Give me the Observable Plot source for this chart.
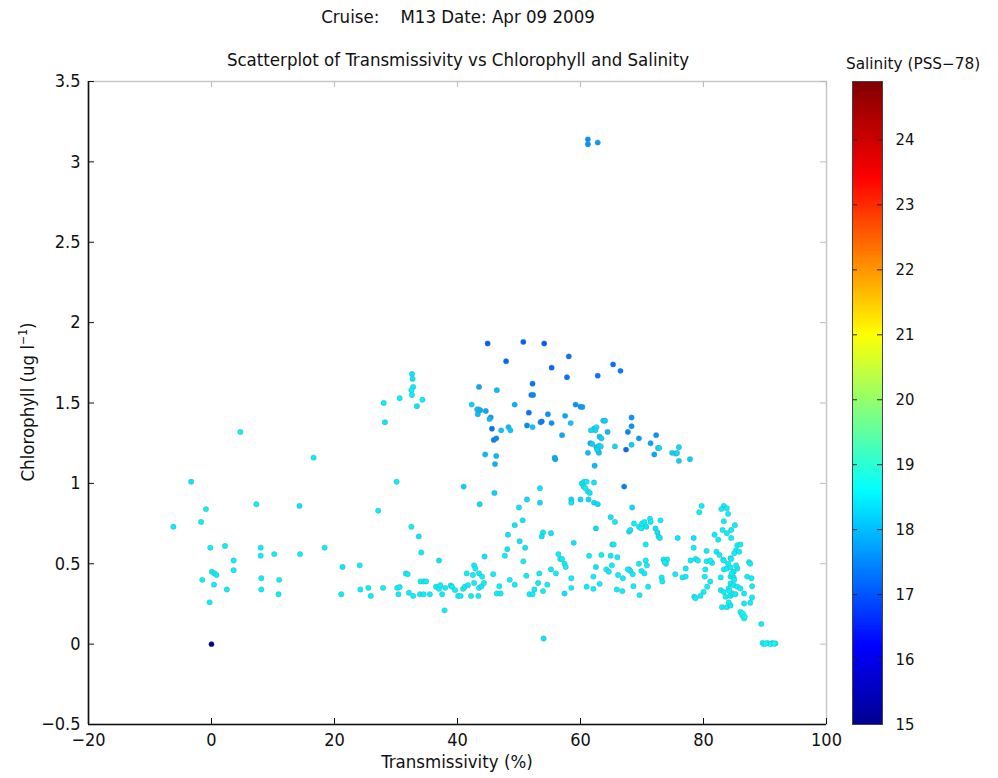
<!DOCTYPE html>
<html><head><meta charset="utf-8">
<script src="https://cdn.jsdelivr.net/npm/d3@7"></script>
<script src="https://cdn.jsdelivr.net/npm/@observablehq/plot@0.6"></script>
<style>
body{margin:0;background:#fff;}
#wrap{position:relative;width:998px;height:778px;font-family:"DejaVu Sans Condensed","DejaVu Sans",sans-serif;font-stretch:condensed;color:#111;overflow:hidden;}
.t{position:absolute;white-space:pre;font-size:18.5px;line-height:22px;}
#main,#cbar{position:absolute;}
</style></head><body><div id="wrap">
<div class="t" style="left:0;width:916px;text-align:center;top:6px;">Cruise:    M13 Date: Apr 09 2009</div>
<div class="t" style="left:0;width:916px;text-align:center;top:49px;">Scatterplot of Transmissivity vs Chlorophyll and Salinity</div>
<div class="t" style="left:-122px;width:300px;text-align:center;top:391px;transform:rotate(-90deg);">Chlorophyll (ug l<sup style="font-size:12px;line-height:0">−1</sup>)</div>
<div class="t" style="left:0;width:914px;text-align:center;top:751px;">Transmissivity (%)</div>
<div class="t" style="left:846px;top:53px;font-family:'DejaVu Sans',sans-serif;font-stretch:normal;font-size:15.3px;">Salinity (PSS−78)</div>
<div id="main"></div>
<div id="cbar"></div>
</div>
<script>
// [transmissivity %, chlorophyll ug/l, salinity PSS-78]
const leftPoints = [
[-6.2,0.73,18.5],[-3.3,1.01,18.4],[-1.7,0.76,18.5],[-0.9,0.84,18.5],[-0.2,0.60,18.5],[-1.5,0.40,18.5],
[0.05,0.45,18.5],[0.5,0.44,18.5],[0.8,0.43,18.5],[0.4,0.37,18.5],[-0.3,0.26,18.5],[2.2,0.61,18.5],
[3.6,0.52,18.5],[3.6,0.46,18.5],[2.5,0.34,18.5],[4.7,1.32,18.5],[7.3,0.87,18.5],[8.0,0.60,18.5],
[8.0,0.55,18.5],[8.1,0.41,18.5],[8.1,0.34,18.5],[10.2,0.56,18.5],[11.0,0.40,18.5],[10.9,0.31,18.5],
[14.3,0.86,18.4],[14.4,0.56,18.5],[16.6,1.16,18.5],[18.4,0.60,18.5],[21.3,0.48,18.4],[21.1,0.31,18.5],
[24.1,0.49,18.5],[24.2,0.34,18.5],[25.5,0.35,18.5],[25.9,0.30,18.5],[27.1,0.83,18.5],[28.0,1.50,18.5],
[28.2,1.38,18.4],[27.9,0.35,18.5],[30.1,1.01,18.5],[30.6,1.53,18.5],[30.2,0.35,18.5],[30.6,0.355,18.5],
[30.4,0.31,18.5],[32.1,0.32,18.5],[32.8,0.30,18.5],[31.6,0.44,18.5],[31.9,0.435,18.5],[32.5,0.73,18.5],
[33.7,0.67,18.4],[34.1,0.57,18.5],[32.6,1.68,18.4],[32.7,1.65,18.4],[32.8,1.60,18.5],[32.5,1.58,18.5],
[32.6,1.55,18.5],[33.4,1.48,18.4],[34.3,1.52,18.5],[34.0,0.39,18.5],[34.5,0.39,18.5],[34.9,0.39,18.5],
[33.9,0.31,18.5],[34.5,0.31,18.5],[35.5,0.31,18.5],[37.0,0.52,18.4],[36.5,0.357,18.5],[37.0,0.344,18.5],
[37.2,0.367,18.5],[38.0,0.35,18.5],[37.5,0.31,18.5],[37.9,0.21,18.5],[38.9,0.365,18.5],[39.1,0.357,18.5],
[39.6,0.336,18.5],[40.1,0.30,18.5],[40.5,0.30,18.5],[40.9,0.344,18.5],[41.2,0.357,18.5],[41.7,0.367,18.5],
[41.0,0.98,18.2],[41.5,0.44,18.5],[42.2,0.30,18.5],[42.7,0.49,18.5],[42.9,0.47,18.5],[42.5,0.43,18.5],
[43.5,0.44,18.5],[42.7,0.38,18.5],[43.5,0.35,18.5],[42.3,1.49,18.2],[43.5,1.60,17.8],[43.2,1.46,18.0],
[43.3,1.43,18.0],[43.4,1.46,18.1],[43.6,0.87,18.3]
];
const upperPoints = [
[44.9,1.87,17.1],[50.7,1.88,17.1],[54.1,1.87,17.1],[47.9,1.76,17.2],[55.3,1.72,17.2],[58.1,1.79,17.3],
[57.8,1.66,17.3],[62.8,1.67,17.3],[65.3,1.74,17.3],[66.5,1.70,17.4],[46.4,1.58,18.0],[52.2,1.62,17.3],
[52.0,1.55,17.4],[52.3,1.55,17.5],[43.7,1.455,17.9],[44.6,1.45,17.8],[45.4,1.41,17.7],[45.2,1.40,18.0],
[49.3,1.49,17.9],[51.6,1.44,17.3],[51.3,1.36,17.5],[52.2,1.35,18.1],[53.5,1.38,17.5],[53.7,1.385,17.4],
[54.7,1.43,17.6],[55.3,1.375,17.6],[57.5,1.42,17.8],[58.4,1.375,18.1],[59.2,1.49,17.6],[60.0,1.477,17.6],
[60.3,1.475,17.7],[45.6,1.34,17.3],[47.1,1.33,18.1],[48.3,1.35,18.0],[48.6,1.33,18.1],[45.9,1.27,17.4],
[46.3,1.28,17.5],[44.5,1.18,18.0],[46.3,1.17,18.0],[46.1,1.12,17.9],[57.0,1.30,17.8],[55.8,1.16,17.9],
[55.9,1.15,17.8],[62.2,1.34,18.3],[62.6,1.35,18.4],[62.4,1.33,18.3],[61.7,1.33,18.3],[63.7,1.39,18.2],
[64.0,1.39,18.2],[64.4,1.32,18.0],[63.1,1.29,18.1],[63.4,1.28,18.2],[61.6,1.25,17.9],[61.9,1.245,18.2],
[62.6,1.225,18.1],[63.0,1.235,18.3],[63.3,1.23,18.3],[61.2,1.19,18.0],[62.9,1.20,18.3],[63.0,1.19,18.1],
[62.7,1.21,18.2],[62.3,1.11,18.0],[65.6,1.23,18.3],[68.3,1.41,17.6],[68.3,1.355,17.6],[67.7,1.32,17.5],
[69.5,1.28,17.7],[68.3,1.24,18.2],[67.4,1.21,17.2],[72.3,1.30,17.6],[71.4,1.25,17.8],[72.6,1.22,18.3],
[72.8,1.22,18.3],[72.0,1.18,17.8],[76.0,1.225,18.3],[74.9,1.19,18.2],[75.5,1.185,18.3],[75.7,1.19,18.3],
[76.0,1.14,18.2],[77.8,1.15,18.2],[67.1,0.98,17.4]
];
const middlePoints = [
[60.2,1.00,18.4],[60.6,1.01,18.4],[61.0,1.01,18.5],[60.5,0.98,18.4],[60.8,0.97,18.5],[61.2,0.95,18.5],
[61.5,0.94,18.4],[62.2,1.005,18.4],[60.0,0.90,18.3],[61.3,0.90,18.3],[62.2,0.88,18.3],[62.8,0.87,18.3],
[58.5,0.90,18.3],[58.5,0.88,18.4],[46.0,0.94,18.2],[53.4,0.97,18.4],[53.4,0.88,18.3],[51.3,0.90,18.3],
[50.0,0.85,18.4],[50.6,0.77,18.4],[49.3,0.74,18.4],[48.2,0.68,18.4],[50.1,0.64,18.4],[51.0,0.60,18.4],
[48.1,0.59,18.4],[47.7,0.55,18.5],[53.9,0.695,18.4],[53.7,0.67,18.4],[55.2,0.69,18.4],[58.9,0.63,18.4],
[68.4,0.85,18.3],[64.9,0.79,18.4],[65.6,0.76,18.5],[62.5,0.72,18.3],[67.9,0.70,18.4],[68.1,0.71,18.4],
[68.7,0.75,18.5],[69.5,0.73,18.5],[69.9,0.72,18.5],[70.0,0.75,18.5],[70.4,0.76,18.5],[70.7,0.73,18.4],
[71.3,0.78,18.5],[71.4,0.76,18.5],[73.0,0.77,18.5],[72.2,0.72,18.4],[72.5,0.695,18.4],[72.7,0.67,18.4],
[72.9,0.66,18.4],[70.6,0.62,18.5],[65.2,0.62,18.5],[65.4,0.62,18.5],[75.8,0.66,18.4]
];
const lowerPoints = [
[44.0,0.42,18.5],[43.9,0.36,18.5],[44.3,0.38,18.5],[43.4,0.30,18.5],[44.4,0.545,18.4],[45.8,0.435,18.5],
[46.8,0.36,18.5],[46.4,0.315,18.5],[47.0,0.315,18.5],[48.5,0.40,18.5],[49.3,0.37,18.5],[50.7,0.515,18.5],
[51.2,0.425,18.5],[51.7,0.31,18.5],[52.2,0.31,18.5],[52.5,0.34,18.5],[53.1,0.38,18.5],[53.3,0.44,18.5],
[53.9,0.33,18.5],[54.6,0.37,18.5],[55.2,0.465,18.5],[56.0,0.44,18.5],[56.4,0.56,18.5],[56.7,0.53,18.5],
[57.0,0.53,18.5],[57.4,0.50,18.5],[57.6,0.48,18.5],[57.4,0.315,18.4],[58.5,0.41,18.5],[58.5,0.35,18.5],
[61.4,0.55,18.5],[61.0,0.357,18.5],[62.1,0.42,18.5],[62.1,0.344,18.5],[62.5,0.48,18.4],[63.4,0.555,18.5],
[63.1,0.375,18.5],[64.2,0.465,18.5],[64.6,0.45,18.5],[64.9,0.55,18.5],[65.1,0.49,18.5],[66.0,0.54,18.5],
[66.1,0.43,18.5],[65.9,0.34,18.5],[66.8,0.33,18.5],[66.9,0.41,18.5],[67.9,0.465,18.5],[68.1,0.455,18.5],
[68.5,0.435,18.5],[67.7,0.465,18.5],[68.6,0.36,18.5],[69.6,0.305,18.5],[69.5,0.50,18.5],[69.9,0.455,18.5],
[70.6,0.52,18.5],[70.8,0.49,18.5],[70.4,0.44,18.5],[71.0,0.357,18.5],[73.2,0.415,18.5],[73.3,0.39,18.5],
[73.5,0.527,18.5],[73.9,0.50,18.5],[74.1,0.527,18.5],[73.7,0.51,18.5],[75.4,0.435,18.5],[76.6,0.415,18.5],
[77.1,0.42,18.5],[77.1,0.47,18.5],[54.0,0.035,18.4]
];
const rightPoints = [
[79.7,0.86,18.5],[79.3,0.82,18.5],[83.3,0.86,18.5],[83.8,0.845,18.5],[82.9,0.84,18.5],[84.0,0.81,18.5],
[83.3,0.765,18.5],[85.1,0.74,18.5],[83.1,0.71,18.5],[84.5,0.71,18.5],[83.8,0.69,18.5],[81.8,0.68,18.5],
[82.4,0.65,18.5],[84.5,0.66,18.5],[78.4,0.66,18.4],[78.4,0.60,18.5],[80.5,0.58,18.5],[82.1,0.575,18.5],
[82.6,0.555,18.5],[85.5,0.615,18.5],[86.0,0.62,18.5],[85.3,0.585,18.5],[85.8,0.575,18.5],[85.0,0.565,18.5],
[83.2,0.525,18.5],[84.4,0.535,18.5],[77.9,0.52,18.5],[78.7,0.53,18.5],[79.1,0.52,18.5],[80.5,0.515,18.5],
[81.4,0.505,18.5],[81.1,0.52,18.5],[83.3,0.52,18.5],[84.5,0.53,18.5],[87.4,0.51,18.5],[87.6,0.50,18.5],
[80.3,0.465,18.5],[83.3,0.465,18.5],[83.8,0.47,18.5],[84.4,0.477,18.5],[85.5,0.47,18.5],[84.9,0.45,18.5],
[80.2,0.42,18.5],[82.8,0.415,18.5],[84.4,0.42,18.5],[84.9,0.415,18.5],[87.1,0.42,18.5],[87.8,0.41,18.5],
[81.1,0.39,18.5],[80.6,0.357,18.5],[80.0,0.325,18.5],[84.4,0.377,18.5],[84.9,0.367,18.5],[84.1,0.346,18.5],
[85.5,0.357,18.5],[86.0,0.346,18.5],[87.9,0.36,18.5],[78.5,0.295,18.5],[78.7,0.285,18.5],[79.5,0.30,18.5],
[82.8,0.336,18.5],[83.3,0.325,18.5],[83.6,0.295,18.5],[84.4,0.30,18.5],[84.7,0.315,18.5],[86.6,0.315,18.5],
[87.9,0.29,18.5],[87.6,0.257,18.5],[86.6,0.253,18.5],[83.0,0.23,18.5],[83.8,0.23,18.5],[84.4,0.24,18.5],
[84.1,0.26,18.5],[86.0,0.20,18.6],[86.3,0.18,18.6],[86.6,0.16,18.6],[86.4,0.19,18.6],[86.7,0.17,18.6],
[84.6,0.44,18.5],[85.0,0.40,18.5],[84.2,0.33,18.5],[85.2,0.31,18.5],[84.0,0.50,18.5],[85.3,0.49,18.5],
[89.4,0.125,18.5],[89.6,0.008,18.6],[90.4,0.008,18.6],[91.2,0.008,18.6],[91.7,0.004,18.6],[89.8,0,18.6],
[90.9,0,18.6],[91.5,0.002,18.6],[90.1,0.004,18.6]
];
const outlierPoints = [[61.2,3.14,17.6],[61.2,3.11,17.6],[62.8,3.12,17.7],[0,0,15.0]];

const xTicks = [-20, 0, 20, 40, 60, 80, 100];
const yTicks = [-0.5, 0, 0.5, 1, 1.5, 2, 2.5, 3, 3.5];
const salinityTicks = [15, 16, 17, 18, 19, 20, 21, 22, 23, 24];
const salinityRange = [15, 24.9];
// jet colormap stops (salinity value -> colour)
const jetStops = [15, 16.2, 18.6, 21, 23.4, 24.9];
const jetColors = ["#000090", "#0000ff", "#00ffff", "#ffff00", "#ff0000", "#800000"];

const rows = [...leftPoints, ...upperPoints, ...middlePoints, ...lowerPoints, ...rightPoints, ...outlierPoints]
  .map(([t, c, s]) => ({transmissivity: t, chlorophyll: c, salinity: s}));

const fmt = d => (d < 0 ? "\u2212" + Math.abs(d) : String(d));
const colorScale = {type: "linear", domain: jetStops, range: jetColors, interpolate: "rgb"};

const W = 998, H = 778, mL = 88, mR = 172, mT = 81, mB = 54;
const pw = W - mL - mR, ph = H - mT - mB;

const main = Plot.plot({
  width: W, height: H,
  marginLeft: mL, marginRight: mR, marginTop: mT, marginBottom: mB,
  style: {fontFamily: "'DejaVu Sans Condensed','DejaVu Sans',sans-serif", fontSize: "18px", fontStretch: "condensed", background: "transparent", color: "#111"},
  x: {domain: [-20, 100]},
  y: {domain: [-0.5, 3.5]},
  color: colorScale,
  marks: [
    Plot.frame({stroke: "#c8c8c8", strokeWidth: 1.5}),
    Plot.ruleX(xTicks, {x: d => d, insetTop: ph - 6, stroke: "#111"}),
    Plot.ruleX(xTicks, {x: d => d, insetBottom: ph - 6, stroke: "#bbb"}),
    Plot.ruleY(yTicks, {y: d => d, insetRight: pw - 6, stroke: "#111"}),
    Plot.ruleY(yTicks, {y: d => d, insetLeft: pw - 6, stroke: "#bbb"}),
    Plot.ruleX([-20], {stroke: "#111", strokeWidth: 1.6}),
    Plot.ruleY([-0.5], {stroke: "#111", strokeWidth: 1.6}),
    Plot.axisX({ticks: xTicks, tickSize: 0, tickPadding: 9, tickFormat: fmt, label: null}),
    Plot.axisY({ticks: yTicks, tickSize: 0, tickPadding: 8, tickFormat: fmt, label: null}),
    Plot.dot(rows, {x: "transmissivity", y: "chlorophyll", fill: "salinity", r: 2.7, stroke: "#777", strokeOpacity: 0.45, strokeWidth: 0.7})
  ]
});
const mainDiv = document.getElementById("main");
mainDiv.style.left = "0px"; mainDiv.style.top = "0px";
mainDiv.appendChild(main);

// colour bar
const cbStep = 0.03;
const cbBands = d3.range(salinityRange[0], salinityRange[1], cbStep);
const cb = Plot.plot({
  width: 80, height: ph + 30,
  marginLeft: 0, marginRight: 50, marginTop: 10, marginBottom: 20,
  style: {fontFamily: "'DejaVu Sans',sans-serif", fontSize: "16.5px", background: "transparent", color: "#111"},
  x: {domain: [0, 1], axis: null},
  y: {domain: salinityRange},
  color: colorScale,
  marks: [
    Plot.rect(cbBands, {x1: 0, x2: 1, y1: d => d, y2: d => Math.min(d + cbStep * 1.6, salinityRange[1]), fill: d => d + cbStep / 2, shapeRendering: "crispEdges"}),
    Plot.ruleY(salinityTicks, {y: d => d, insetRight: 25, stroke: "#222"}),
    Plot.ruleY(salinityTicks, {y: d => d, insetLeft: 25, stroke: "#222"}),
    Plot.frame({stroke: "#444"}),
    Plot.axisY({anchor: "right", ticks: salinityTicks, tickSize: 0, tickPadding: 13, label: null})
  ]
});
const cbDiv = document.getElementById("cbar");
cbDiv.style.left = "852px"; cbDiv.style.top = (mT - 10) + "px";
cbDiv.appendChild(cb);
</script>
</body></html>
